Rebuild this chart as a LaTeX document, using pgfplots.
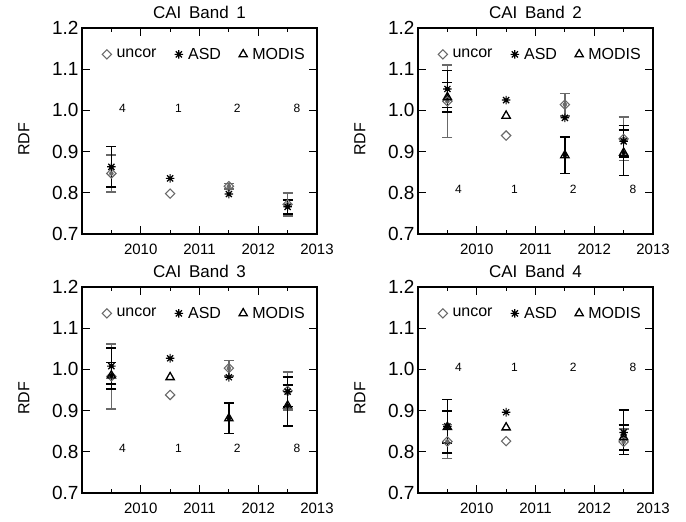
\documentclass[border=0pt]{standalone}
\usepackage{fontspec}
\setmainfont{Liberation Sans}
\usepackage{pgfplots}
\pgfplotsset{compat=1.18}
\usepackage{pgfplotstable}
\definecolor{uncorgray}{RGB}{105,105,105}

% eight-armed asterisk, as the plotting program draws it
\pgfdeclareplotmark{ast8}{%
  \pgfpathmoveto{\pgfqpoint{0pt}{\pgfplotmarksize}}\pgfpathlineto{\pgfqpoint{0pt}{-\pgfplotmarksize}}%
  \pgfpathmoveto{\pgfqpoint{\pgfplotmarksize}{0pt}}\pgfpathlineto{\pgfqpoint{-\pgfplotmarksize}{0pt}}%
  \pgfpathmoveto{\pgfqpoint{0.707\pgfplotmarksize}{0.707\pgfplotmarksize}}\pgfpathlineto{\pgfqpoint{-0.707\pgfplotmarksize}{-0.707\pgfplotmarksize}}%
  \pgfpathmoveto{\pgfqpoint{-0.707\pgfplotmarksize}{0.707\pgfplotmarksize}}\pgfpathlineto{\pgfqpoint{0.707\pgfplotmarksize}{-0.707\pgfplotmarksize}}%
  \pgfusepathqstroke}

% x: year, u/a/m: marker values, *b/*e: centre and half-width of error bar (nan = no bar)
\pgfplotstableread{
x      u     a     m     ub    ue    ab    ae    mb    me
2009.5 0.847 0.863 nan   0.847 0.045 0.863 0.049 nan   nan
2010.5 0.798 0.835 nan   nan   nan   nan   nan   nan   nan
2011.5 0.816 0.797 nan   0.816 0.007 nan   nan   nan   nan
2012.5 0.772 0.766 nan   0.772 0.028 0.766 0.017 nan   nan
}\bandone
\pgfplotstableread{
x      u     a     m     ub    ue    ab    ae    mb    me
2009.5 1.022 1.052 1.032 1.022 0.088 1.052 0.045 1.032 0.036
2010.5 0.939 1.025 0.987 nan   nan   nan   nan   nan   nan
2011.5 1.014 0.982 0.891 1.014 0.027 nan   nan   0.891 0.044
2012.5 0.931 0.925 0.897 0.931 0.053 0.925 0.038 0.897 0.055
}\bandtwo
\pgfplotstableread{
x      u     a     m     ub    ue    ab    ae    mb    me
2009.5 0.983 1.008 0.985 0.983 0.079 1.008 0.044 0.985 0.032
2010.5 0.938 1.027 0.981 nan   nan   nan   nan   nan   nan
2011.5 1.003 0.981 0.881 1.003 0.019 nan   nan   0.881 0.037
2012.5 0.948 0.946 0.912 0.948 0.046 0.946 0.036 0.912 0.050
}\bandthree
\pgfplotstableread{
x      u     a     m     ub    ue    ab    ae    mb    me
2009.5 0.825 0.862 0.860 0.825 0.041 0.862 0.065 0.860 0.039
2010.5 0.826 0.896 0.859 nan   nan   nan   nan   nan   nan
2011.5 nan   nan   nan   nan   nan   nan   nan   nan   nan
2012.5 0.824 0.847 0.835 0.824 0.031 0.847 0.054 0.835 0.030
}\bandfour

\pgfplotsset{
  rdf/.style={
    scale only axis, width=235pt, height=206pt, clip=false,
    xmin=2009, xmax=2013, ymin=0.7, ymax=1.2,
    xtick={2010,2011,2012,2013}, xticklabels={2010,2011,2012,2013},
    minor xtick={2009.5,2010.5,2011.5,2012.5},
    ytick={0.7,0.8,0.9,1.0,1.1,1.2}, yticklabels={0.7,0.8,0.9,1.0,1.1,1.2},
    tick align=inside, major tick length=8pt, minor tick length=4pt,
    axis line style={line width=1.3pt}, tick style={black, line width=1.2pt},
    /pgf/number format/assume math mode=true,
    xticklabel style={font=\fontsize{15}{15}\selectfont, yshift=-6pt},
    yticklabel style={font=\fontsize{19}{19}\selectfont},
    title style={font=\fontsize{17}{17}\selectfont, yshift=0pt},
    ylabel={RDF},
    ylabel style={font=\fontsize{16}{16}\selectfont, at={(axis description cs:-0.247,0.46)}, anchor=center},
    legend columns=3,
    legend style={draw=none, fill=none, inner sep=0pt, at={(0.085,0.872)}, anchor=west,
      font=\fontsize{16}{16}\selectfont,
      /tikz/every odd column/.append style={column sep=3pt},
      /tikz/every even column/.append style={column sep=16pt}},
    legend image code/.code={\draw[mark repeat=2,mark phase=2] plot coordinates {(0pt,0pt)(4.5pt,0pt)(9pt,0pt)};},
  },
  bar/.style={forget plot, only marks, mark=none, #1,
    error bars/.cd, y dir=both, y explicit,
    error bar style={line width=1.6pt, #1},
    error mark options={rotate=90, mark size=5pt, line width=1.6pt, #1}},
  umark/.style={only marks, uncorgray, mark=square, mark size=3.3pt, mark options={rotate=45, line width=1.1pt}},
  amark/.style={only marks, black, mark=ast8, mark size=4.3pt, mark options={line width=1.2pt}},
  mmark/.style={only marks, black, mark=triangle, mark size=4.8pt, mark options={line width=1.3pt}},
}

\newcommand{\rdfplots}[1]{%
  \addlegendimage{umark}\addlegendentry{uncor}
  \addlegendimage{amark}\addlegendentry{ASD}
  \addlegendimage{mmark}\addlegendentry{MODIS}
  \addplot[bar=uncorgray] table[x=x, y=ub, y error=ue] {#1};
  \addplot[bar=black] table[x=x, y=ab, y error=ae] {#1};
  \addplot[bar=black] table[x=x, y=mb, y error=me] {#1};
  \addplot[umark, forget plot] table[x=x, y=u] {#1};
  \addplot[amark, forget plot] table[x=x, y=a] {#1};
  \addplot[mmark, forget plot] table[x=x, y=m] {#1};
}
\newcommand{\counts}[1]{%
  \node[font=\fontsize{12}{12}\selectfont] at (axis cs:2009.69,#1) {4};
  \node[font=\fontsize{12}{12}\selectfont] at (axis cs:2010.64,#1) {1};
  \node[font=\fontsize{12}{12}\selectfont] at (axis cs:2011.64,#1) {2};
  \node[font=\fontsize{12}{12}\selectfont] at (axis cs:2012.66,#1) {8};
}

\begin{document}
\begin{tikzpicture}
\useasboundingbox (0,0) rectangle (686pt,522pt);

\begin{axis}[rdf, at={(82pt,288pt)}, anchor=south west,
  title={CAI\hspace{0.45em}Band\hspace{0.45em}1}]
\rdfplots{\bandone}
\counts{1.004}
\end{axis}

\begin{axis}[rdf, at={(418pt,288pt)}, anchor=south west,
  title={CAI\hspace{0.45em}Band\hspace{0.45em}2}]
\rdfplots{\bandtwo}
\counts{0.809}
\end{axis}

\begin{axis}[rdf, at={(82pt,29pt)}, anchor=south west,
  title={CAI\hspace{0.45em}Band\hspace{0.45em}3}]
\rdfplots{\bandthree}
\counts{0.808}
\end{axis}

\begin{axis}[rdf, at={(418pt,29pt)}, anchor=south west,
  title={CAI\hspace{0.45em}Band\hspace{0.45em}4}]
\rdfplots{\bandfour}
\counts{1.004}
\end{axis}
\end{tikzpicture}
\end{document}
